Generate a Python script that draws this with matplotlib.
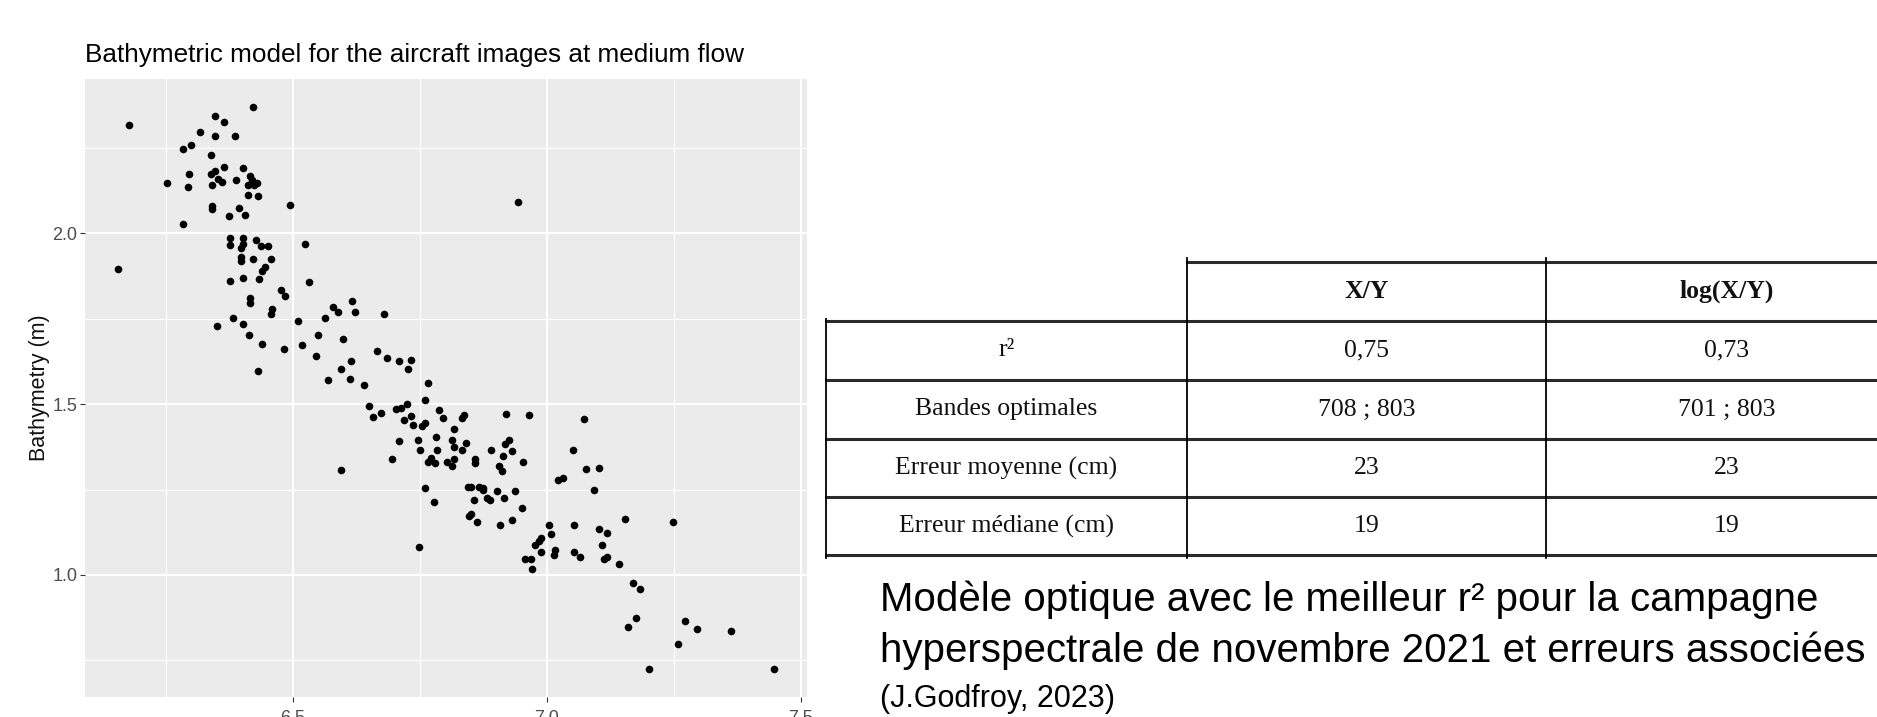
import matplotlib.pyplot as plt
from matplotlib.ticker import FormatStrFormatter

# data (x axis has no visible title)
ratio = [
    6.178, 6.422, 6.347, 6.364, 6.316, 6.347, 6.385, 6.299, 6.284, 6.339,
    6.364, 6.402, 6.296, 6.339, 6.347, 6.416, 6.252, 6.293, 6.341, 6.353,
    6.360, 6.388, 6.419, 6.412, 6.429, 6.423, 6.411, 6.431, 6.494, 6.341,
    6.341, 6.393, 6.374, 6.405, 6.284, 6.155, 6.376, 6.376, 6.402, 6.402,
    6.398, 6.428, 6.437, 6.451, 6.523, 6.397, 6.397, 6.422, 6.457, 6.439,
    6.445, 6.376, 6.402, 6.434, 6.531, 6.944,
    6.477, 6.485, 6.416, 6.416, 6.459, 6.457, 6.382, 6.350, 6.402, 6.414,
    6.439, 6.483, 6.509, 6.563, 6.549, 6.517, 6.546, 6.431, 6.569,
    6.578, 6.589, 6.617, 6.623, 6.680, 6.599, 6.666, 6.686, 6.709, 6.732,
    6.726, 6.594, 6.614, 6.612, 6.640, 6.766, 6.761, 6.649, 6.657, 6.674,
    6.703, 6.712, 6.724, 6.718, 6.732, 6.736, 6.755, 6.761, 6.787, 6.796,
    6.833, 6.836, 6.818, 6.782, 6.747, 6.750, 6.709, 6.695, 6.594, 6.813,
    6.818, 6.833, 6.841, 6.784, 6.766, 6.772, 6.779, 6.803, 6.813, 6.818,
    6.859, 6.859, 6.891, 6.913, 6.918, 6.925, 6.932, 6.920, 6.965, 6.954,
    6.905, 6.911, 6.761, 6.845, 6.851, 6.867, 6.874, 6.875, 6.902, 6.937,
    7.022, 7.032,
    6.778, 6.856, 6.882, 6.888, 6.916, 6.951, 6.846, 6.851, 6.862, 6.908,
    6.931, 6.749, 7.005, 7.009, 6.988, 6.984, 6.977, 6.988, 7.017, 7.014,
    6.957, 6.968, 6.971,
    7.074, 7.051, 7.077, 7.103, 7.094, 7.155, 7.249, 7.054, 7.103, 7.118,
    7.109, 7.054, 7.065, 7.112, 7.118, 7.143,
    7.169, 7.183, 7.175, 7.161, 7.272, 7.295, 7.362, 7.258, 7.201, 7.448,
]
bathymetry = [
    2.319, 2.370, 2.344, 2.327, 2.298, 2.284, 2.285, 2.259, 2.246, 2.230,
    2.195, 2.191, 2.173, 2.173, 2.184, 2.168, 2.148, 2.135, 2.142, 2.159,
    2.151, 2.157, 2.156, 2.143, 2.147, 2.141, 2.114, 2.110, 2.084, 2.081,
    2.073, 2.076, 2.051, 2.054, 2.028, 1.896, 1.986, 1.965, 1.986, 1.969,
    1.958, 1.982, 1.964, 1.964, 1.969, 1.932, 1.919, 1.925, 1.925, 1.891,
    1.901, 1.862, 1.870, 1.867, 1.859, 2.093,
    1.833, 1.818, 1.810, 1.797, 1.779, 1.763, 1.753, 1.728, 1.736, 1.702,
    1.677, 1.663, 1.745, 1.753, 1.702, 1.672, 1.642, 1.596, 1.571,
    1.784, 1.770, 1.801, 1.770, 1.763, 1.690, 1.656, 1.634, 1.626, 1.630,
    1.604, 1.604, 1.626, 1.575, 1.557, 1.562, 1.511, 1.494, 1.463, 1.473,
    1.485, 1.489, 1.502, 1.455, 1.465, 1.438, 1.436, 1.446, 1.482, 1.459,
    1.460, 1.468, 1.426, 1.405, 1.395, 1.365, 1.391, 1.339, 1.306, 1.396,
    1.375, 1.365, 1.387, 1.365, 1.332, 1.343, 1.327, 1.330, 1.319, 1.339,
    1.341, 1.327, 1.366, 1.349, 1.383, 1.395, 1.362, 1.472, 1.469, 1.332,
    1.320, 1.305, 1.255, 1.259, 1.259, 1.259, 1.256, 1.249, 1.247, 1.247,
    1.279, 1.284,
    1.213, 1.221, 1.226, 1.220, 1.226, 1.196, 1.172, 1.179, 1.154, 1.145,
    1.161, 1.081, 1.145, 1.119, 1.109, 1.099, 1.089, 1.068, 1.073, 1.059,
    1.047, 1.047, 1.018,
    1.458, 1.365, 1.309, 1.314, 1.250, 1.164, 1.156, 1.147, 1.134, 1.122,
    1.089, 1.067, 1.054, 1.048, 1.054, 1.032,
    0.976, 0.958, 0.873, 0.847, 0.866, 0.843, 0.836, 0.797, 0.725, 0.725,
]
x_ticks = [6.5, 7.0, 7.5]
y_ticks = [1.0, 1.5, 2.0]

# table
col_headers = ["X/Y", "log(X/Y)"]
row_labels = ["r²", "Bandes optimales", "Erreur moyenne (cm)", "Erreur médiane (cm)"]
xy_values = ["0,75", "708 ; 803", "23", "19"]
logxy_values = ["0,73", "701 ; 803", "23", "19"]

caption = ["Modèle optique avec le meilleur r² pour la campagne",
           "hyperspectrale de novembre 2021 et erreurs associées"]
source = "(J.Godfroy, 2023)"

W, H = 1877, 717
fig = plt.figure(figsize=(W / 100, H / 100), dpi=100)

# ---- ggplot-like scatter ----
ax = fig.add_axes([85 / W, 1 - 697 / H, 722 / W, 618 / H])
ax.set_facecolor("#EBEBEB")
ax.scatter(ratio, bathymetry, s=30, color="black", linewidths=0, zorder=3)

xr = max(ratio) - min(ratio)
yr = max(bathymetry) - min(bathymetry)
ax.set_xlim(min(ratio) - 0.05 * xr, max(ratio) + 0.05 * xr)
ax.set_ylim(min(bathymetry) - 0.05 * yr, max(bathymetry) + 0.05 * yr)

ax.set_xticks(x_ticks)
ax.set_yticks(y_ticks)
ax.set_xticks([6.25, 6.75, 7.25], minor=True)
ax.set_yticks([0.75, 1.25, 1.75, 2.25], minor=True)
ax.xaxis.set_major_formatter(FormatStrFormatter("%.1f"))
ax.yaxis.set_major_formatter(FormatStrFormatter("%.1f"))
ax.grid(which="major", color="white", lw=1.5)
ax.grid(which="minor", color="white", lw=0.8)
ax.set_axisbelow(True)
for s in ax.spines.values():
    s.set_visible(False)
ax.tick_params(which="major", length=3.6, width=0.8, color="#333333",
               labelcolor="#4D4D4D", labelsize=13, pad=2)
ax.tick_params(axis="x", pad=6)
ax.tick_params(which="minor", length=0)
for lab in ax.get_xticklabels() + ax.get_yticklabels():
    lab.set_family("Liberation Sans")

ax.set_title("Bathymetric model for the aircraft images at medium flow",
             loc="left", fontsize=18.8, family="Liberation Sans", pad=12)
ax.set_ylabel("Bathymetry (m)", fontsize=15.5, family="Liberation Sans",
              color="#111111")
ax.yaxis.label.set_va("center")
ax.yaxis.set_label_coords(-45 / 722, 0.5)

# ---- table (figure pixel frame) ----
tax = fig.add_axes([0, 0, 1, 1])
tax.set_xlim(0, W)
tax.set_ylim(H, 0)
tax.axis("off")

cols = [826, 1187, 1546, 1908]
rows = [262, 321, 380, 439, 497, 555]

tax.plot([cols[1], W], [rows[0], rows[0]], color="#2a2a2a", lw=2.2)
for r in rows[1:]:
    tax.plot([cols[0], W], [r, r], color="#2a2a2a", lw=2.2)
tax.plot([cols[0], cols[0]], [rows[1] - 2, rows[-1] + 3], color="black", lw=1.3)
for c in cols[1:3]:
    tax.plot([c, c], [rows[0] - 4, rows[-1] + 3], color="black", lw=1.3)

serif = "Liberation Serif"
for j, h in enumerate(col_headers):
    tax.text((cols[j + 1] + cols[j + 2]) / 2, (rows[0] + rows[1]) / 2, h,
             ha="center", va="center", fontsize=18.5, family=serif,
             fontweight="bold", color="#111111")
for i, lab in enumerate(row_labels):
    cy = (rows[i + 1] + rows[i + 2]) / 2
    tax.text((cols[0] + cols[1]) / 2, cy, lab, ha="center", va="center",
             fontsize=18.5, family=serif, color="#111111")
    tax.text((cols[1] + cols[2]) / 2, cy, xy_values[i], ha="center",
             va="center", fontsize=18.5, family=serif, color="#111111")
    tax.text((cols[2] + cols[3]) / 2, cy, logxy_values[i], ha="center",
             va="center", fontsize=18.5, family=serif, color="#111111")

# ---- caption ----
tax.text(880, 611, caption[0], ha="left", va="baseline", fontsize=29,
         family="Liberation Sans", color="black")
tax.text(880, 662, caption[1], ha="left", va="baseline", fontsize=29,
         family="Liberation Sans", color="black")
tax.text(880, 707, source, ha="left", va="baseline", fontsize=22,
         family="Liberation Sans", color="black")

fig.savefig("out.png", dpi=100)
